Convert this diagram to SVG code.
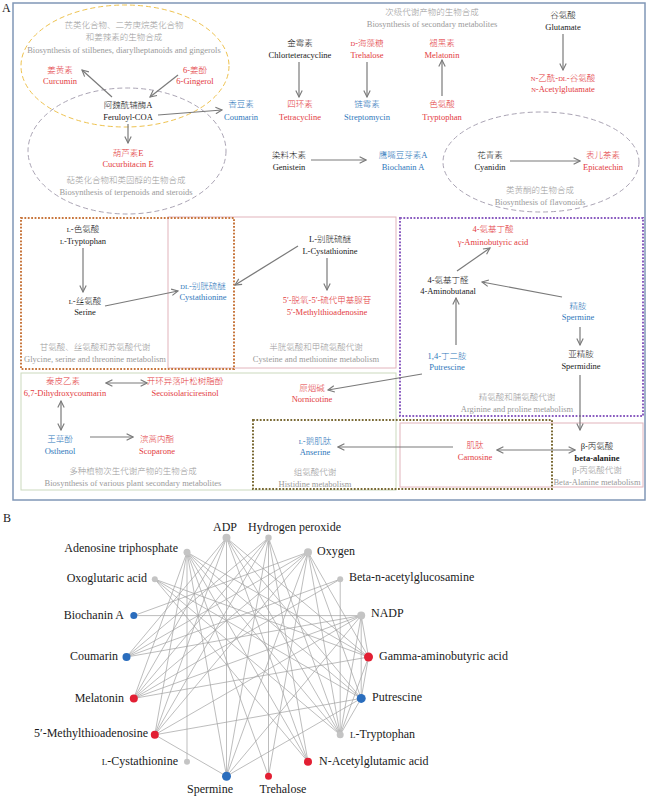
<svg xmlns="http://www.w3.org/2000/svg" width="650" height="797" viewBox="0 0 650 797">
<style>
text{font-family:"Liberation Serif","Noto Sans CJK SC",serif;}
.t{font-size:8.5px;text-anchor:middle;font-weight:300;}
.r{fill:#e33a3e;}
.b{fill:#2f78bb;}
.k{fill:#1a1a1a;}
.g{fill:#9a9a9a;}
.sc{font-size:6.5px;}
.arr{stroke:#7a7a7a;stroke-width:1.2;fill:none;marker-end:url(#ah);}
.dbl{stroke:#7a7a7a;stroke-width:1.2;fill:none;marker-end:url(#ah);marker-start:url(#ah);}
.ell{fill:none;stroke-width:1;stroke-dasharray:5,3;}
.dot{fill:none;stroke-width:2;stroke-dasharray:1.8,1.6;}
.thin{fill:none;stroke-width:1;}
.bl{font-size:12px;fill:#1a1a1a;}
.edge{stroke:#a0a0a0;stroke-width:0.7;fill:none;}
.gy{fill:#c4c4c4;}
.bu{fill:#2a6dbd;}
.rd{fill:#e21f33;}
</style>
<defs>
<marker id="ah" viewBox="0 0 10 10" refX="9" refY="5" markerWidth="8" markerHeight="8" markerUnits="userSpaceOnUse" orient="auto-start-reverse">
<path d="M1,1 L9,5 L1,9" fill="none" stroke="#7a7a7a" stroke-width="1.4"/>
</marker>
</defs>
<rect width="650" height="797" fill="#ffffff"/>

<!-- Panel A frame -->
<text x="2" y="12" font-size="12" fill="#1a1a1a">A</text>
<rect x="13" y="3" width="632" height="497" fill="none" stroke="#8097b6" stroke-width="1.5"/>

<!-- regions -->
<g id="regions">
<ellipse class="ell" cx="125" cy="66" rx="104" ry="61" stroke="#eec24e"/>
<ellipse class="ell" cx="127" cy="151" rx="99" ry="63" stroke="#aaa4b4"/>
<ellipse class="ell" cx="541" cy="162" rx="98" ry="50" stroke="#aaa4b4"/>
<rect class="thin" x="168" y="217" width="228" height="151" stroke="#e2b4bc"/>
<rect class="dot" x="21" y="218" width="213" height="151" stroke="#c8773e"/>
<rect class="dot" x="400" y="218" width="243" height="198" stroke="#8a5cc0"/>
<rect class="thin" x="21" y="373" width="375" height="117" stroke="#cbd9bd"/>
<rect class="thin" x="400" y="423" width="243" height="64" stroke="#e2b4bc"/>
<rect class="dot" x="253" y="420" width="299" height="69" stroke="#7a6a35"/>
</g>

<g id="region-labels" class="t g">
<text x="124" y="28">芪类化合物、二芳庚烷类化合物</text>
<text x="124" y="40">和姜辣素的生物合成</text>
<text x="124" y="53">Biosynthesis of stilbenes, diarylheptanoids and gingerols</text>
<text x="126" y="183">萜类化合物和类固醇的生物合成</text>
<text x="126" y="195">Biosynthesis of terpenoids and steroids</text>
<text x="432" y="15">次级代谢产物的生物合成</text>
<text x="432" y="27">Biosynthesis of secondary metabolites</text>
<text x="540" y="193">类黄酮的生物合成</text>
<text x="540" y="205">Biosynthesis of flavonoids</text>
<text x="95" y="350">甘氨酸、丝氨酸和苏氨酸代谢</text>
<text x="95" y="362">Glycine, serine and threonine metabolism</text>
<text x="316" y="350">半胱氨酸和甲硫氨酸代谢</text>
<text x="316" y="362">Cysteine and methionine metabolism</text>
<text x="517" y="400">精氨酸和脯氨酸代谢</text>
<text x="517" y="412">Arginine and proline metabolism</text>
<text x="133" y="474">多种植物次生代谢产物的生物合成</text>
<text x="133" y="486">Biosynthesis of various plant secondary metabolites</text>
<text x="315" y="475">组氨酸代谢</text>
<text x="315" y="487">Histidine metabolism</text>
<text x="597" y="473">β-丙氨酸代谢</text>
<text x="597" y="485">Beta-Alanine metabolism</text>
</g>

<!-- connectors panel A -->
<g id="connectors-a">
<line class="arr" x1="112" y1="97" x2="82" y2="70"/>
<line class="arr" x1="178" y1="75" x2="150" y2="97"/>
<line class="arr" x1="158" y1="115" x2="222" y2="110"/>
<line class="arr" x1="128" y1="124" x2="128" y2="143"/>
<line class="arr" x1="299" y1="62" x2="299" y2="97"/>
<line class="arr" x1="367" y1="62" x2="367" y2="97"/>
<line class="arr" x1="442" y1="96" x2="442" y2="60"/>
<line class="arr" x1="563" y1="34" x2="563" y2="70"/>
<line class="arr" x1="311" y1="160" x2="366" y2="160"/>
<line class="arr" x1="510" y1="161" x2="580" y2="161"/>
<line class="arr" x1="83" y1="248" x2="83" y2="292"/>
<line class="arr" x1="105" y1="306" x2="178" y2="291"/>
<line class="arr" x1="298" y1="246" x2="235" y2="285"/>
<line class="arr" x1="327" y1="258" x2="327" y2="290"/>
<line class="arr" x1="457" y1="271" x2="490" y2="248"/>
<line class="arr" x1="562" y1="297" x2="482" y2="282"/>
<line class="arr" x1="580" y1="327" x2="580" y2="345"/>
<line class="arr" x1="456" y1="345" x2="456" y2="298"/>
<line class="arr" x1="422" y1="374" x2="328" y2="390"/>
<line class="arr" x1="580" y1="375" x2="580" y2="430"/>
<line class="arr" x1="453" y1="447" x2="338" y2="447"/>
<line class="dbl" x1="497" y1="450" x2="575" y2="450"/>
<line class="dbl" x1="106" y1="383" x2="147" y2="383"/>
<line class="dbl" x1="61" y1="401" x2="61" y2="430"/>
<line class="arr" x1="90" y1="437" x2="133" y2="437"/>
</g>

<!-- nodes panel A -->
<g id="n-curcumin" class="t r"><text x="60" y="73">姜黄素</text><text x="60" y="84">Curcumin</text></g>
<g id="n-gingerol" class="t r"><text x="195" y="73">6-姜酚</text><text x="195" y="84">6-Gingerol</text></g>
<g id="n-feruloyl" class="t k"><text x="128" y="108">阿魏酰辅酶A</text><text x="128" y="120">Feruloyl-COA</text></g>
<g id="n-coumarin" class="t b"><text x="241" y="107">香豆素</text><text x="241" y="120">Coumarin</text></g>
<g id="n-cucurbitacin" class="t r"><text x="128" y="156">葫芦素E</text><text x="128" y="167">Cucurbitacin E</text></g>
<g id="n-chlortetracycline" class="t k"><text x="300" y="46">金霉素</text><text x="300" y="58">Chlorteteracycline</text></g>
<g id="n-trehalose" class="t r"><text x="367" y="46"><tspan class="sc">D</tspan>-海藻糖</text><text x="367" y="58">Trehalose</text></g>
<g id="n-melatonin" class="t r"><text x="442" y="46">褪黑素</text><text x="442" y="58">Melatonin</text></g>
<g id="n-tetracycline" class="t r"><text x="300" y="107">四环素</text><text x="300" y="120">Tetracycline</text></g>
<g id="n-streptomycin" class="t b"><text x="367" y="107">链霉素</text><text x="367" y="120">Streptomycin</text></g>
<g id="n-tryptophan" class="t r"><text x="442" y="107">色氨酸</text><text x="442" y="120">Tryptophan</text></g>
<g id="n-glutamate" class="t k"><text x="563" y="18">谷氨酸</text><text x="563" y="30">Glutamate</text></g>
<g id="n-acetylglutamate" class="t r"><text x="563" y="81"><tspan class="sc">N</tspan>-乙酰-<tspan class="sc">DL</tspan>-谷氨酸</text><text x="563" y="92"><tspan class="sc">N</tspan>-Acetylglutamate</text></g>
<g id="n-genistein" class="t k"><text x="289" y="158">染料木素</text><text x="289" y="170">Genistein</text></g>
<g id="n-biochanin" class="t b"><text x="403" y="158">鹰嘴豆芽素A</text><text x="403" y="170">Biochanin A</text></g>
<g id="n-cyanidin" class="t k"><text x="490" y="158">花青素</text><text x="490" y="170">Cyanidin</text></g>
<g id="n-epicatechin" class="t r"><text x="603" y="158">表儿茶素</text><text x="603" y="170">Epicatechin</text></g>
<g id="n-ltryptophan" class="t k"><text x="83" y="232"><tspan class="sc">L</tspan>-色氨酸</text><text x="83" y="244"><tspan class="sc">L</tspan>-Tryptophan</text></g>
<g id="n-serine" class="t k"><text x="85" y="304"><tspan class="sc">L</tspan>-丝氨酸</text><text x="85" y="315">Serine</text></g>
<g id="n-cystathionine" class="t b"><text x="203" y="289"><tspan class="sc">DL</tspan>-别胱硫醚</text><text x="203" y="300">Cystathionine</text></g>
<g id="n-lcystathionine" class="t k"><text x="330" y="242">L-别胱硫醚</text><text x="330" y="254">L-Cystathionine</text></g>
<g id="n-mta" class="t r"><text x="327" y="303">5′-脱氧-5′-硫代甲基腺苷</text><text x="327" y="315">5′-Methylthioadenosine</text></g>
<g id="n-gaba" class="t r"><text x="493" y="232">4-氨基丁酸</text><text x="493" y="245">γ-Aminobutyric acid</text></g>
<g id="n-aminobutanal" class="t k"><text x="448" y="283">4-氨基丁醛</text><text x="448" y="294">4-Aminobutanal</text></g>
<g id="n-spermine" class="t b"><text x="578" y="309">精胺</text><text x="578" y="320">Spermine</text></g>
<g id="n-spermidine" class="t k"><text x="581" y="357">亚精胺</text><text x="581" y="369">Spermidine</text></g>
<g id="n-putrescine" class="t b"><text x="447" y="359">1,4-丁二胺</text><text x="447" y="370">Putrescine</text></g>
<g id="n-nornicotine" class="t r"><text x="312" y="391">原烟碱</text><text x="312" y="402">Nornicotine</text></g>
<g id="n-anserine" class="t b"><text x="315" y="444"><tspan class="sc">L</tspan>-鹅肌肽</text><text x="315" y="455">Anserine</text></g>
<g id="n-carnosine" class="t r"><text x="475" y="448">肌肽</text><text x="475" y="460">Carnosine</text></g>
<g id="n-betaalanine" class="t k"><text x="597" y="449">β-丙氨酸</text><text x="597" y="461" font-weight="bold">beta-alanine</text></g>
<g id="n-dihydroxycoumarin" class="t r"><text x="63" y="384">秦皮乙素</text><text x="65" y="396">6,7-Dihydroxycoumarin</text></g>
<g id="n-secoisolariciresinol" class="t r"><text x="185" y="384">开环异落叶松树脂酚</text><text x="185" y="396">Secoisolariciresinol</text></g>
<g id="n-osthenol" class="t b"><text x="60" y="442">王草酚</text><text x="60" y="454">Osthenol</text></g>
<g id="n-scoparone" class="t r"><text x="157" y="442">滨蒿内酯</text><text x="157" y="454">Scoparone</text></g>

<!-- Panel B -->
<text x="3" y="522" font-size="12" fill="#1a1a1a">B</text>
<g id="connectors-b">
<path class="edge" d="M226.5,537.8L126.5,657M226.5,537.8L133.8,698.4M226.5,537.8L154.8,734.8M226.5,537.8L226.5,776.2M226.5,537.8L308,761.8M226.5,537.8L340.2,734.8M226.5,537.8L361.2,698.4M226.5,537.8L368.5,657
M268.5,537.8L126.5,657M268.5,537.8L133.8,698.4M268.5,537.8L154.8,734.8M268.5,537.8L226.5,776.2M268.5,537.8L268.5,776.2M268.5,537.8L340.2,734.8M268.5,537.8L308,761.8
M187,552.2L187,761.8M187,552.2L154.8,734.8M187,552.2L133.8,698.4M187,552.2L226.5,776.2M187,552.2L268.5,776.2M187,552.2L308,761.8M187,552.2L340.2,734.8M187,552.2L361.2,698.4M187,552.2L368.5,657
M308,552.2L133.8,615.6M308,552.2L126.5,657M308,552.2L133.8,698.4M308,552.2L154.8,734.8M308,552.2L226.5,776.2M308,552.2L268.5,776.2M308,552.2L340.2,734.8M308,552.2L361.2,698.4M308,552.2L368.5,657
M154.8,579.2L368.5,657M154.8,579.2L361.2,698.4M154.8,579.2L340.2,734.8M154.8,579.2L308,761.8
M340.2,579.2L340.2,734.8M340.2,579.2L126.5,657M340.2,579.2L133.8,698.4
M361.2,615.6L133.8,615.6M361.2,615.6L126.5,657M361.2,615.6L133.8,698.4M361.2,615.6L368.5,657M361.2,615.6L361.2,698.4M361.2,615.6L340.2,734.8M361.2,615.6L226.5,776.2M361.2,615.6L154.8,734.8
M361.2,698.4L154.8,734.8M361.2,698.4L226.5,776.2M361.2,698.4L368.5,657M361.2,698.4L340.2,734.8
M368.5,657L133.8,698.4M368.5,657L340.2,734.8M226.5,776.2L154.8,734.8"/>
</g>
<g id="b-hydrogen-peroxide"><circle class="gy" cx="268.5" cy="537.8" r="3.2"/><text class="bl" x="248" y="531">Hydrogen peroxide</text></g>
<g id="b-adp"><circle class="gy" cx="226.5" cy="537.8" r="4"/><text class="bl" x="225" y="531" text-anchor="middle">ADP</text></g>
<g id="b-atp"><circle class="gy" cx="187" cy="552.2" r="3.5"/><text class="bl" x="178" y="552" text-anchor="end">Adenosine triphosphate</text></g>
<g id="b-oxoglutaric"><circle class="gy" cx="154.8" cy="579.2" r="3"/><text class="bl" x="147" y="582" text-anchor="end">Oxoglutaric acid</text></g>
<g id="b-biochanin"><circle class="bu" cx="133.8" cy="615.6" r="3.5"/><text class="bl" x="124" y="619" text-anchor="end">Biochanin A</text></g>
<g id="b-coumarin"><circle class="bu" cx="126.5" cy="657" r="4"/><text class="bl" x="118" y="660" text-anchor="end">Coumarin</text></g>
<g id="b-melatonin"><circle class="rd" cx="133.8" cy="698.4" r="4"/><text class="bl" x="124" y="702" text-anchor="end">Melatonin</text></g>
<g id="b-mta"><circle class="rd" cx="154.8" cy="734.8" r="4"/><text class="bl" x="148" y="737" text-anchor="end">5′-Methylthioadenosine</text></g>
<g id="b-lcystathionine"><circle class="gy" cx="187" cy="761.8" r="3"/><text class="bl" x="178" y="765" text-anchor="end"><tspan font-size="9">L</tspan>-Cystathionine</text></g>
<g id="b-spermine"><circle class="bu" cx="226.5" cy="776.2" r="4.5"/><text class="bl" x="210" y="793" text-anchor="middle">Spermine</text></g>
<g id="b-trehalose"><circle class="rd" cx="268.5" cy="776.2" r="3.5"/><text class="bl" x="283" y="793" text-anchor="middle">Trehalose</text></g>
<g id="b-nag"><circle class="rd" cx="308" cy="761.8" r="4"/><text class="bl" x="319" y="765">N-Acetylglutamic acid</text></g>
<g id="b-ltryptophan"><circle class="gy" cx="340.2" cy="734.8" r="3.5"/><text class="bl" x="350" y="738"><tspan font-size="9">L</tspan>-Tryptophan</text></g>
<g id="b-putrescine"><circle class="bu" cx="361.2" cy="698.4" r="4.5"/><text class="bl" x="372" y="701">Putrescine</text></g>
<g id="b-gaba"><circle class="rd" cx="368.5" cy="657" r="4.5"/><text class="bl" x="379" y="660">Gamma-aminobutyric acid</text></g>
<g id="b-nadp"><circle class="gy" cx="361.2" cy="615.6" r="4"/><text class="bl" x="371" y="617">NADP</text></g>
<g id="b-beta"><circle class="gy" cx="340.2" cy="579.2" r="3"/><text class="bl" x="349" y="581">Beta-n-acetylglucosamine</text></g>
<g id="b-oxygen"><circle class="gy" cx="308" cy="552.2" r="4"/><text class="bl" x="317" y="555">Oxygen</text></g>
</svg>
